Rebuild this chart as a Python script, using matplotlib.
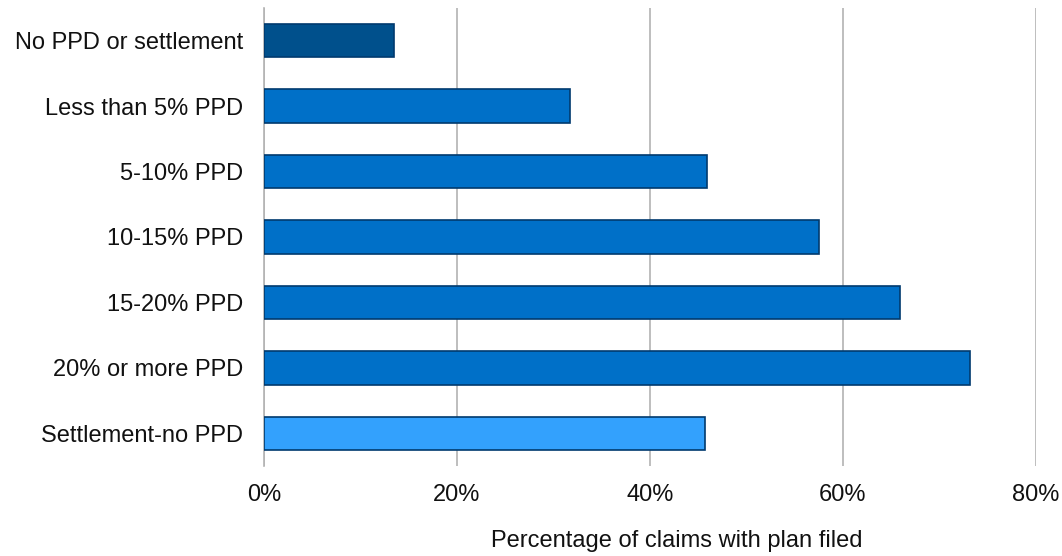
import matplotlib
matplotlib.use("Agg")
import matplotlib.pyplot as plt
from matplotlib.ticker import FuncFormatter

plt.rcParams['font.family'] = ['Liberation Sans', 'DejaVu Sans']

categories = ["No PPD or settlement", "Less than 5% PPD", "5-10% PPD", "10-15% PPD",
              "15-20% PPD", "20% or more PPD", "Settlement-no PPD"]
values = [13.5, 31.7, 45.9, 57.5, 65.9, 73.2, 45.7]
bar_colors = ["#00508C", "#0070C8", "#0070C8", "#0070C8", "#0070C8", "#0070C8", "#33A1FD"]
x_ticks = [0, 20, 40, 60, 80]

fig = plt.figure(figsize=(10.62, 5.56), dpi=100)
ax = fig.add_axes([0.2486, 0.1619, 0.7269, 0.8237])

pos = list(range(len(categories)))
ax.barh(pos, values, height=0.51, color=bar_colors, edgecolor="#003A6E", linewidth=1.2, zorder=3)

ax.set_ylim(len(categories) - 0.5, -0.5)
ax.set_xlim(0, 80)
ax.set_xticks(x_ticks)
ax.xaxis.set_major_formatter(FuncFormatter(lambda v, p: f"{v:.0f}%"))
ax.set_yticks(pos)
ax.set_yticklabels(categories)

ax.grid(axis="x", color="#B3B3B3", linewidth=1.2, zorder=0)
for side in ["top", "right", "bottom"]:
    ax.spines[side].set_visible(False)
ax.spines["left"].set_color("#B3B3B3")
ax.spines["left"].set_linewidth(1.2)

ax.tick_params(axis="both", length=0, labelsize=17, colors="#111111")
ax.tick_params(axis="x", pad=13)
ax.tick_params(axis="y", pad=15)
ax.set_xlabel("Percentage of claims with plan filed", fontsize=17, color="#111111")
ax.xaxis.set_label_coords(0.535, -0.164)
ax.xaxis.label.set_verticalalignment("center")

fig.savefig("out.png", dpi=100)
